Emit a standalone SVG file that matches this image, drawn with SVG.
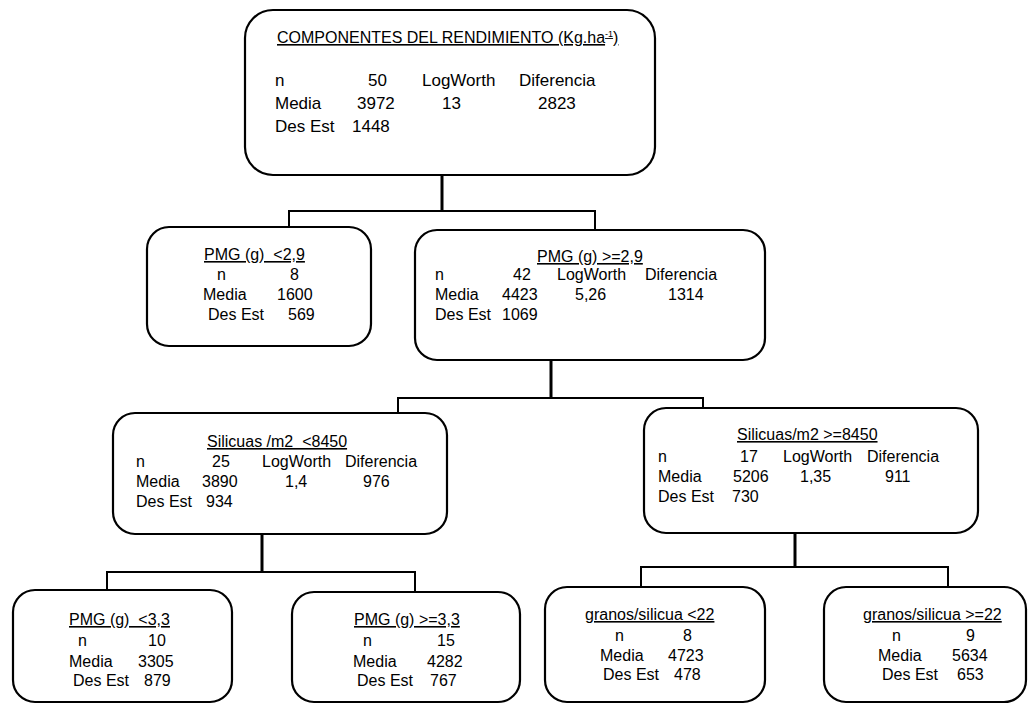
<svg xmlns="http://www.w3.org/2000/svg" width="1029" height="704" viewBox="0 0 1029 704">
  <style>
    .box { fill: #ffffff; stroke: #000000; stroke-width: 2.2; }
    .t { font-family: "Liberation Sans", Arial, sans-serif; font-size: 16px; fill: #000000; }
    .big { font-size: 17px; }
    .u { text-decoration: underline; }
    .conn { fill: none; stroke: #000000; stroke-width: 2; }
    .stem { fill: none; stroke: #000000; stroke-width: 3; }
  </style>

  <rect width="1029" height="704" fill="#ffffff"/>

  <!-- tree connectors -->
  <g id="connectors">
    <path class="stem" d="M442,175 V211"/>
    <path class="conn" d="M289,227 V211 H595 V230"/>
    <path class="stem" d="M551,360 V398"/>
    <path class="conn" d="M398,413 V398 H703 V408"/>
    <path class="stem" d="M262,534 V572"/>
    <path class="conn" d="M107,590 V572 H415 V592"/>
    <path class="stem" d="M795,533 V567"/>
    <path class="conn" d="M641,587 V567 H948 V587"/>
  </g>

  <!-- root node -->
  <g id="node-root">
    <rect class="box" x="245" y="10" width="410" height="165" rx="28" ry="28"/>
    <text class="t u" x="277" y="43">COMPONENTES DEL RENDIMIENTO (Kg.ha<tspan font-size="9" dy="-6">-1</tspan><tspan dy="6">)</tspan></text>
    <text class="t big" x="275" y="86">n</text>
    <text class="t big" x="368" y="86">50</text>
    <text class="t big" x="422" y="86">LogWorth</text>
    <text class="t big" x="519" y="86">Diferencia</text>
    <text class="t big" x="275" y="109">Media</text>
    <text class="t big" x="357" y="109">3972</text>
    <text class="t big" x="442" y="109">13</text>
    <text class="t big" x="538" y="109">2823</text>
    <text class="t big" x="275" y="132">Des Est</text>
    <text class="t big" x="352" y="132">1448</text>
  </g>

  <!-- PMG < 2,9 -->
  <g id="node-pmg-lt-29">
    <rect class="box" x="147" y="227" width="224" height="119" rx="22" ry="22"/>
    <text class="t u" x="204" y="260" xml:space="preserve">PMG (g)  &lt;2,9</text>
    <text class="t" x="217" y="280">n</text>
    <text class="t" x="290" y="280">8</text>
    <text class="t" x="203" y="300">Media</text>
    <text class="t" x="277" y="300">1600</text>
    <text class="t" x="208" y="320">Des Est</text>
    <text class="t" x="288" y="320">569</text>
  </g>

  <!-- PMG >= 2,9 -->
  <g id="node-pmg-ge-29">
    <rect class="box" x="415" y="230" width="350" height="130" rx="22" ry="22"/>
    <text class="t u" x="537" y="262">PMG (g) &gt;=2,9</text>
    <text class="t" x="435" y="280">n</text>
    <text class="t" x="513" y="280">42</text>
    <text class="t" x="557" y="280">LogWorth</text>
    <text class="t" x="645" y="280">Diferencia</text>
    <text class="t" x="435" y="300">Media</text>
    <text class="t" x="502" y="300">4423</text>
    <text class="t" x="575" y="300">5,26</text>
    <text class="t" x="668" y="300">1314</text>
    <text class="t" x="435" y="320">Des Est</text>
    <text class="t" x="502" y="320">1069</text>
  </g>

  <!-- Silicuas/m2 < 8450 -->
  <g id="node-sil-lt">
    <rect class="box" x="113" y="413" width="334" height="121" rx="22" ry="22"/>
    <text class="t u" x="207" y="447" xml:space="preserve">Silicuas /m2  &lt;8450</text>
    <text class="t" x="136" y="467">n</text>
    <text class="t" x="212" y="467">25</text>
    <text class="t" x="262" y="467">LogWorth</text>
    <text class="t" x="345" y="467">Diferencia</text>
    <text class="t" x="136" y="487">Media</text>
    <text class="t" x="202" y="487">3890</text>
    <text class="t" x="285" y="487">1,4</text>
    <text class="t" x="363" y="487">976</text>
    <text class="t" x="136" y="507">Des Est</text>
    <text class="t" x="206" y="507">934</text>
  </g>

  <!-- Silicuas/m2 >= 8450 -->
  <g id="node-sil-ge">
    <rect class="box" x="644" y="408" width="334" height="125" rx="22" ry="22"/>
    <text class="t u" x="737" y="440">Silicuas/m2 &gt;=8450</text>
    <text class="t" x="658" y="462">n</text>
    <text class="t" x="740" y="462">17</text>
    <text class="t" x="783" y="462">LogWorth</text>
    <text class="t" x="867" y="462">Diferencia</text>
    <text class="t" x="658" y="482">Media</text>
    <text class="t" x="733" y="482">5206</text>
    <text class="t" x="800" y="482">1,35</text>
    <text class="t" x="885" y="482">911</text>
    <text class="t" x="658" y="502">Des Est</text>
    <text class="t" x="732" y="502">730</text>
  </g>

  <!-- PMG < 3,3 -->
  <g id="node-pmg-lt-33">
    <rect class="box" x="13" y="590" width="219" height="112" rx="22" ry="22"/>
    <text class="t u" x="69" y="625" xml:space="preserve">PMG (g)  &lt;3,3</text>
    <text class="t" x="78" y="646">n</text>
    <text class="t" x="148" y="646">10</text>
    <text class="t" x="69" y="667">Media</text>
    <text class="t" x="138" y="667">3305</text>
    <text class="t" x="73" y="686">Des Est</text>
    <text class="t" x="144" y="686">879</text>
  </g>

  <!-- PMG >= 3,3 -->
  <g id="node-pmg-ge-33">
    <rect class="box" x="292" y="592" width="228" height="110" rx="22" ry="22"/>
    <text class="t u" x="354" y="625">PMG (g) &gt;=3,3</text>
    <text class="t" x="363" y="646">n</text>
    <text class="t" x="437" y="646">15</text>
    <text class="t" x="353" y="667">Media</text>
    <text class="t" x="427" y="667">4282</text>
    <text class="t" x="357" y="686">Des Est</text>
    <text class="t" x="430" y="686">767</text>
  </g>

  <!-- granos/silicua < 22 -->
  <g id="node-gran-lt">
    <rect class="box" x="545" y="587" width="220" height="115" rx="22" ry="22"/>
    <text class="t u" x="585" y="620">granos/silicua &lt;22</text>
    <text class="t" x="615" y="641">n</text>
    <text class="t" x="683" y="641">8</text>
    <text class="t" x="600" y="661">Media</text>
    <text class="t" x="668" y="661">4723</text>
    <text class="t" x="603" y="680">Des Est</text>
    <text class="t" x="674" y="680">478</text>
  </g>

  <!-- granos/silicua >= 22 -->
  <g id="node-gran-ge">
    <rect class="box" x="824" y="587" width="202" height="115" rx="22" ry="22"/>
    <text class="t u" x="863" y="620">granos/silicua &gt;=22</text>
    <text class="t" x="892" y="641">n</text>
    <text class="t" x="966" y="641">9</text>
    <text class="t" x="878" y="661">Media</text>
    <text class="t" x="952" y="661">5634</text>
    <text class="t" x="882" y="680">Des Est</text>
    <text class="t" x="957" y="680">653</text>
  </g>
</svg>
